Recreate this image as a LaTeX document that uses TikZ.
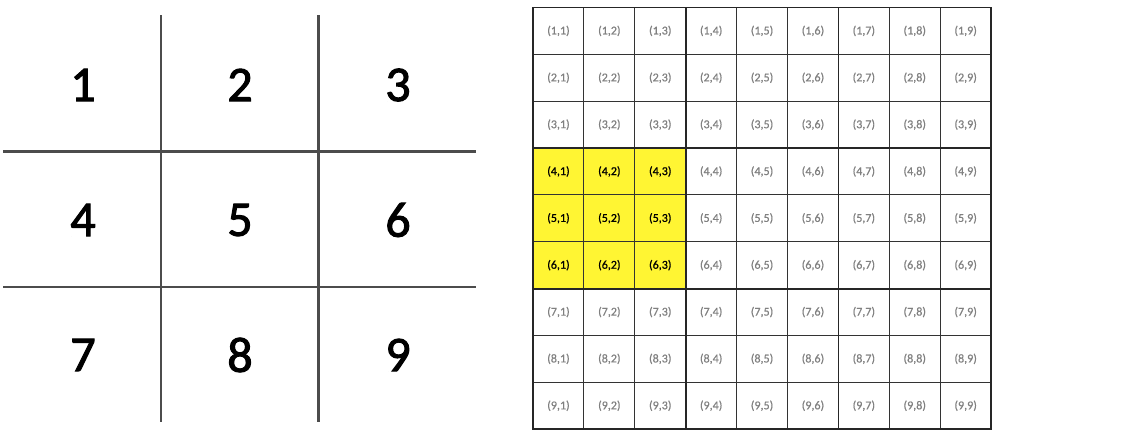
\documentclass[tikz,border=0pt]{standalone}
\usepackage{fontspec}
\setmainfont{Carlito}
\begin{document}
\begin{tikzpicture}[x=1pt,y=-1pt,
  bigline/.style={draw=black!70,line width=2.8pt},
  bignum/.style={font=\fontsize{50}{50}\selectfont\addfontfeature{FakeBold=2}},
  thin/.style={draw=black!80,line width=0.9pt},
  thick/.style={draw=black!85,line width=1.8pt},
  cell/.style={font=\fontsize{12}{12}\selectfont\addfontfeature{FakeBold=0.6},text=black!50},
  hcell/.style={font=\fontsize{12}{12}\selectfont\addfontfeature{FakeBold=0.8},text=black}]
\useasboundingbox (0,0) rectangle (1125,442);
% left tic-tac-toe grid
\coordinate (v1t) at (161,15); \coordinate (v1b) at (161,422);
\coordinate (v2t) at (318.5,15); \coordinate (v2b) at (318.5,422);
\coordinate (h1l) at (3,151.5); \coordinate (h1r) at (476,151.5);
\coordinate (h2l) at (3,287); \coordinate (h2r) at (476,287);
\draw[bigline] (v1t) -- (v1b);
\draw[bigline] (v2t) -- (v2b);
\draw[bigline] (h1l) -- (h1r);
\draw[bigline] (h2l) -- (h2r);
\foreach \r/\y in {0/85,1/220,2/355}{
  \foreach \c/\x in {1/83,2/240,3/398}{
    \pgfmathtruncatemacro{\n}{3*\r+\c}
    \node[bignum] (n\n) at (\x,\y) {\n};
  }
}
% right grid
\def\gx{533}\def\gy{7.5}\def\cw{50.9}\def\ch{46.85}
\fill[yellow!80!white] (\gx,\gy+3*\ch) rectangle (\gx+3*\cw,\gy+6*\ch);
\foreach \i in {1,2,4,5,7,8}{
  \draw[thin] (\gx+\i*\cw,\gy) -- (\gx+\i*\cw,\gy+9*\ch);
  \draw[thin] (\gx,\gy+\i*\ch) -- (\gx+9*\cw,\gy+\i*\ch);
}
\foreach \i in {3,6}{
  \draw[thick] (\gx+\i*\cw,\gy) -- (\gx+\i*\cw,\gy+9*\ch);
  \draw[thick] (\gx,\gy+\i*\ch) -- (\gx+9*\cw,\gy+\i*\ch);
}
\draw[thick] (\gx,\gy) rectangle (\gx+9*\cw,\gy+9*\ch);
\foreach \r in {1,...,9}{
  \foreach \c in {1,...,9}{
    \pgfmathsetmacro{\hl}{(\r>3)&&(\r<7)&&(\c<4)?1:0}
    \ifdim\hl pt>0.5pt
      \node[hcell] (c\r\c) at (\gx+\c*\cw-0.5*\cw,\gy+\r*\ch-0.5*\ch) {(\r,\c)};
    \else
      \node[cell] (c\r\c) at (\gx+\c*\cw-0.5*\cw,\gy+\r*\ch-0.5*\ch) {(\r,\c)};
    \fi
  }
}
\end{tikzpicture}
\end{document}
